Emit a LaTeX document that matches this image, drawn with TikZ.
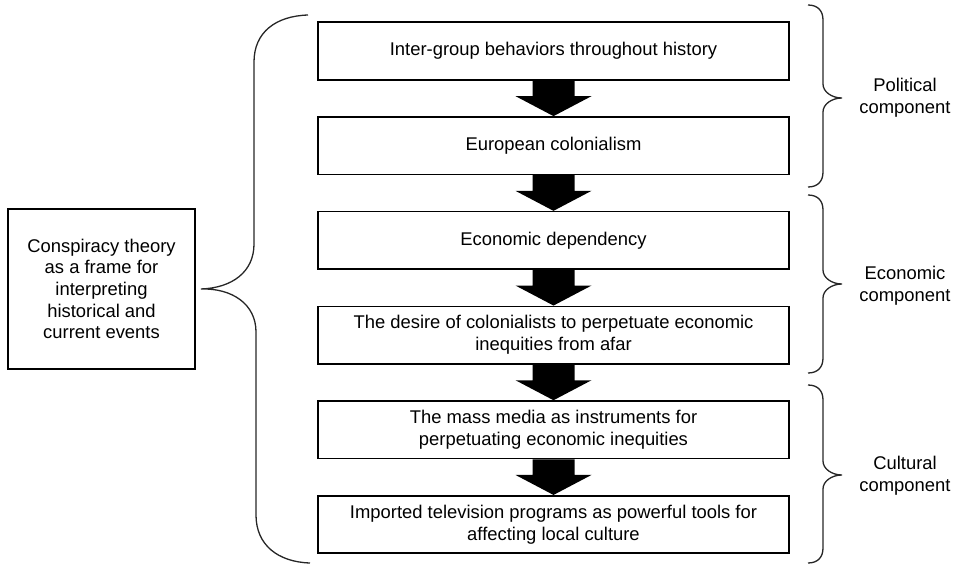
\documentclass[tikz,border=0pt]{standalone}
\usepackage{fontspec}
\setmainfont{Liberation Sans}
\usetikzlibrary{calc}

\tikzset{
  stagebox/.style={draw=black, line width=1.6bp, rectangle, minimum width=471bp,
    minimum height=57.5bp, inner sep=2bp, align=center,
    font=\fontsize{18.4bp}{22bp}\selectfont},
  framebox/.style={draw=black, line width=1.6bp, rectangle, minimum width=187bp,
    minimum height=160bp, inner sep=2bp, align=center,
    font=\fontsize{18.4bp}{21.7bp}\selectfont},
  bracelabel/.style={align=center, inner sep=0bp,
    font=\fontsize{18.4bp}{21.7bp}\selectfont},
  bracestroke/.style={draw=black!85, line width=1.3bp},
  flowarrow/.style={fill=black}
}

% Thick block arrow from the bottom of one stage to the top of the next
\newcommand{\blockarrow}[2]{%
  \fill[flowarrow] ($(#1.south)+(-21,0)$) -- ($(#2.north)+(-21,-20)$)
    -- ($(#2.north)+(-38,-20)$) -- (#2.north) -- ($(#2.north)+(38,-20)$)
    -- ($(#2.north)+(21,-20)$) -- ($(#1.south)+(21,0)$) -- cycle;}

% Right-hand curly brace: top end, bottom end, tip height
\newcommand{\sidebrace}[3]{%
  \draw[bracestroke] (808,#1) .. controls (818,#1) and (823,{#1+6}) .. (823,{#1+15})
    -- (823,{#3-14}) .. controls (823,{#3-6}) and (832,#3) .. (842,#3)
    .. controls (832,#3) and (823,{#3+6}) .. (823,{#3+14})
    -- (823,{#2-15}) .. controls (823,{#2-6}) and (818,#2) .. (808,#2);}

\begin{document}
\begin{tikzpicture}[x=1bp,y=-1bp]
\useasboundingbox (0,0) rectangle (962,566);

% stages of the argument
\node[stagebox] (s1) at (553.5,51)    {Inter-group behaviors throughout history};
\node[stagebox] (s2) at (553.5,145.7) {European colonialism};
\node[stagebox] (s3) at (553.5,240.4) {Economic dependency};
\node[stagebox] (s4) at (553.5,335.1) {The desire of colonialists to perpetuate economic\\inequities from afar};
\node[stagebox] (s5) at (553.5,429.8) {The mass media as instruments for\\perpetuating economic inequities};
\node[stagebox] (s6) at (553.5,524.5) {Imported television programs as powerful tools for\\affecting local culture};

\blockarrow{s1}{s2}
\blockarrow{s2}{s3}
\blockarrow{s3}{s4}
\blockarrow{s4}{s5}
\blockarrow{s5}{s6}

% overall frame on the left
\node[framebox] (frame) at (101.5,289) {Conspiracy theory\\as a frame for\\interpreting\\historical and\\current events};

% large brace joining the frame to all stages
\draw[bracestroke] (308,15) .. controls (276,16) and (254,32) .. (254,62)
  -- (254,244) .. controls (254,272) and (232,288) .. ($(frame.east)+(5,0)$)
  .. controls (232,288) and (256,304) .. (256,332)
  -- (256,515) .. controls (256,545) and (278,562) .. (310,563);

% component braces on the right
\sidebrace{5}{187}{98}
\sidebrace{195}{373}{284}
\sidebrace{385}{563}{475}

\node[bracelabel] (polit) at (905,98)  {Political\\component};
\node[bracelabel] (econ)  at (905,286) {Economic\\component};
\node[bracelabel] (cult)  at (905,476) {Cultural\\component};
\end{tikzpicture}
\end{document}
